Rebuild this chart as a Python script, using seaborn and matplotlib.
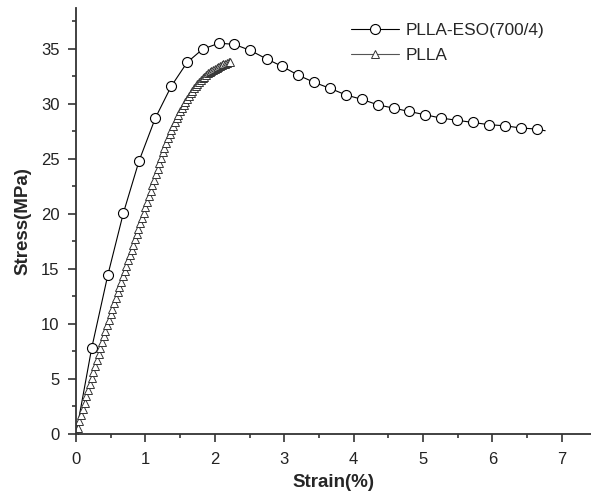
import matplotlib
matplotlib.use("Agg")
import matplotlib.pyplot as plt
import seaborn as sns
from matplotlib.ticker import MultipleLocator

# PLLA-ESO(700/4): circle-marked curve (last point = line end, no marker)
eso_strain = [0.0, 0.226, 0.457, 0.682, 0.908, 1.143, 1.373, 1.60, 1.826, 2.06,
              2.28, 2.51, 2.75, 2.97, 3.20, 3.43, 3.66, 3.89, 4.12, 4.35,
              4.58, 4.80, 5.03, 5.26, 5.49, 5.72, 5.95, 6.18, 6.41, 6.64, 6.76]
eso_stress = [0.0, 7.8, 14.4, 20.06, 24.8, 28.7, 31.6, 33.75, 34.97, 35.5,
              35.4, 34.85, 34.06, 33.4, 32.6, 31.95, 31.4, 30.8, 30.4, 29.9,
              29.6, 29.3, 29.0, 28.7, 28.5, 28.3, 28.1, 28.0, 27.8, 27.7, 27.55]

# PLLA: densely marked triangle curve
plla_strain = [0.000, 0.025, 0.050, 0.075, 0.100, 0.125, 0.150, 0.175, 0.200, 0.225,
               0.250, 0.275, 0.300, 0.325, 0.350, 0.375, 0.400, 0.425, 0.450, 0.475,
               0.500, 0.525, 0.550, 0.575, 0.600, 0.625, 0.650, 0.675, 0.700, 0.725,
               0.750, 0.775, 0.800, 0.825, 0.850, 0.875, 0.900, 0.925, 0.950, 0.975,
               1.000, 1.025, 1.050, 1.075, 1.100, 1.125, 1.150, 1.175, 1.200, 1.225,
               1.250, 1.275, 1.300, 1.325, 1.350, 1.375, 1.400, 1.425, 1.450, 1.475,
               1.500, 1.525, 1.550, 1.575, 1.600, 1.625, 1.650, 1.675, 1.700, 1.725,
               1.750, 1.775, 1.800, 1.825, 1.850, 1.875, 1.900, 1.925, 1.950, 1.975,
               2.000, 2.025, 2.050, 2.075, 2.100, 2.125, 2.150, 2.175, 2.200, 2.225]
plla_stress = [0.0, 0.55, 1.15, 1.7, 2.3, 2.85, 3.45, 4.0, 4.55, 5.1,
               5.65, 6.2, 6.75, 7.3, 7.8, 8.35, 8.9, 9.4, 9.9, 10.4,
               10.9, 11.4, 11.9, 12.4, 12.9, 13.35, 13.85, 14.35, 14.8, 15.3,
               15.8, 16.25, 16.75, 17.2, 17.7, 18.2, 18.65, 19.15, 19.65, 20.1,
               20.6, 21.1, 21.6, 22.1, 22.6, 23.1, 23.6, 24.1, 24.6, 25.1,
               25.6, 26.0, 26.45, 26.85, 27.25, 27.65, 28.0, 28.35, 28.7, 29.0,
               29.3, 29.6, 29.9, 30.2, 30.45, 30.7, 30.95, 31.2, 31.4, 31.6,
               31.8, 32.0, 32.15, 32.3, 32.45, 32.6, 32.75, 32.85, 32.95, 33.05,
               33.15, 33.25, 33.35, 33.45, 33.5, 33.6, 33.65, 33.7, 33.75, 33.8]

x_ticks = [0, 1, 2, 3, 4, 5, 6, 7]
y_ticks = [0, 5, 10, 15, 20, 25, 30, 35]

sns.set_style("ticks")
plt.rcParams["font.family"] = ["Liberation Sans", "DejaVu Sans"]

fig = plt.figure(figsize=(5.91, 4.94), dpi=100)
ax = fig.add_axes([76 / 591, 1 - 434 / 494, 1 - 76 / 591, (434 - 8) / 494])

sns.lineplot(x=eso_strain, y=eso_stress, ax=ax, sort=False, color="black", lw=0.8,
             marker="o", markersize=7.2, markerfacecolor="white",
             markeredgecolor="black", markeredgewidth=0.8,
             markevery=list(range(1, len(eso_strain) - 1)),
             label="PLLA-ESO(700/4)")
sns.lineplot(x=plla_strain, y=plla_stress, ax=ax, sort=False, color="#555555", lw=0.8,
             marker="^", markersize=5.4, markerfacecolor="white",
             markeredgecolor="#333333", markeredgewidth=0.7,
             label="PLLA")

ax.set_xlim(0, 7.42)
ax.set_ylim(0, 38.7)
ax.set_xticks(x_ticks)
ax.set_yticks(y_ticks)
ax.xaxis.set_minor_locator(MultipleLocator(0.5))
ax.yaxis.set_minor_locator(MultipleLocator(2.5))
ax.tick_params(axis="both", which="major", direction="out", length=5.8, width=1.2,
               labelsize=12, color="#333333", labelcolor="#222222")
ax.tick_params(axis="x", which="major", pad=7.5)
ax.tick_params(axis="y", which="major", pad=6)
ax.tick_params(axis="both", which="minor", direction="out", length=3.1, width=1.2,
               color="#333333")
for s in ["top", "right"]:
    ax.spines[s].set_visible(False)
for s in ["left", "bottom"]:
    ax.spines[s].set_linewidth(1.3)
    ax.spines[s].set_color("#333333")

ax.set_xlabel("Strain(%)", fontsize=13.5, fontweight="bold", labelpad=4.5)
ax.set_ylabel("Stress(MPa)", fontsize=13.5, fontweight="bold", labelpad=7)

leg = ax.legend(loc="upper left", bbox_to_anchor=(351 / 591, 1 - 23 / 494),
                bbox_transform=fig.transFigure, frameon=False, fontsize=12.4,
                handlelength=2.8, handletextpad=0.35, labelspacing=0.55,
                borderpad=0, borderaxespad=0)

fig.savefig("out.png", dpi=100)
